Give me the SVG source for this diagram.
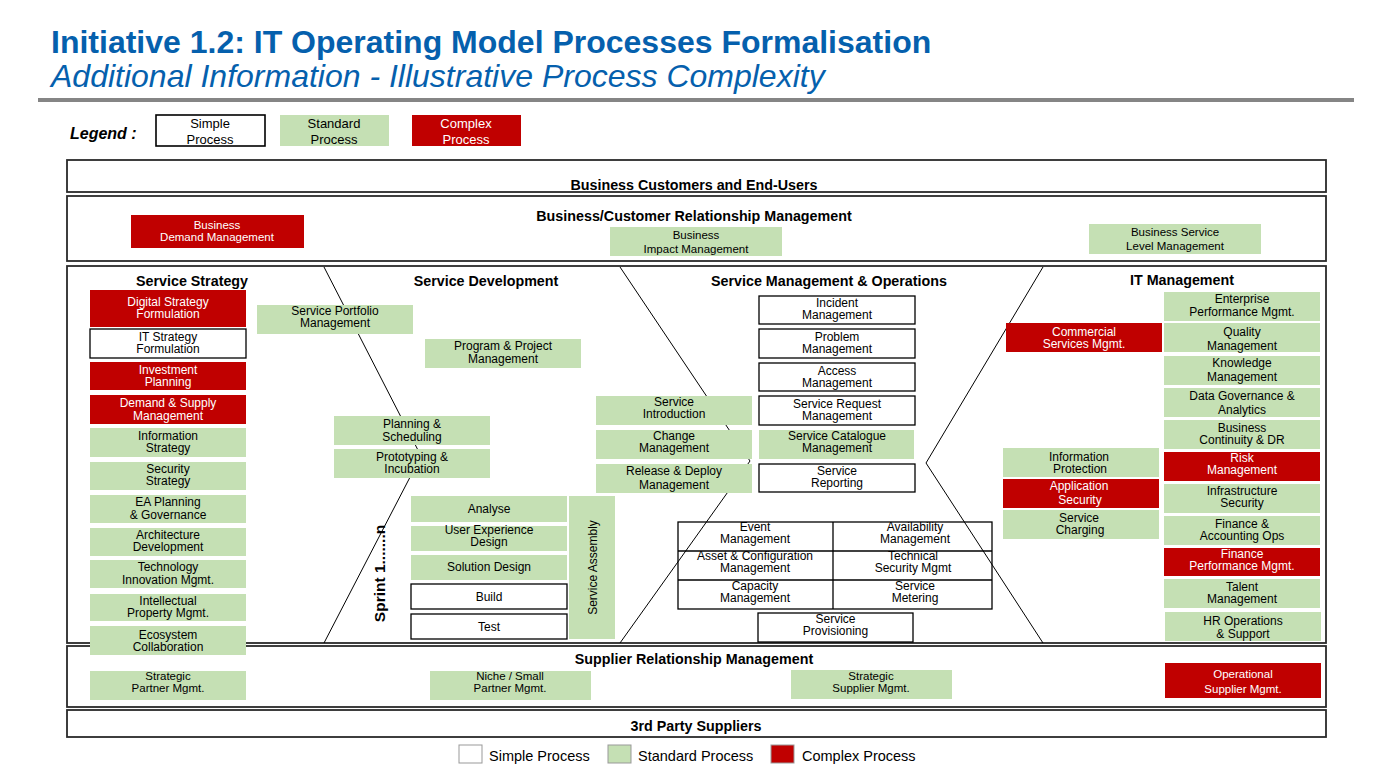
<svg xmlns="http://www.w3.org/2000/svg" width="1396" height="765" viewBox="0 0 1396 765">
<style>
text{font-family:"Liberation Sans",Arial,Helvetica,sans-serif;fill:#000}
.t{font-size:12px;text-anchor:middle}
.tb{font-size:11.5px;text-anchor:middle}
.tw{fill:#fff}
.h{font-size:14.3px;font-weight:bold;text-anchor:middle}
.g{fill:#C5E0B4}
.r{fill:#C00000}
.w{fill:#fff;stroke:#000;stroke-width:1.3}
.frame{fill:none;stroke:#2a2a2a;stroke-width:1.8}
.ln{fill:none;stroke:#000;stroke-width:1}
.cell{fill:none;stroke:#000;stroke-width:1.3}
</style>
<rect width="1396" height="765" fill="#fff"/>

<g id="title">
<text x="51" y="53" style="font-size:32px;font-weight:bold;fill:#0560AD">Initiative 1.2: IT Operating Model Processes Formalisation</text>
<text x="51" y="87" style="font-size:32px;font-style:italic;fill:#0560AD">Additional Information - Illustrative Process Complexity</text>
<rect x="38" y="98" width="1316" height="4" fill="#858585"/>
</g>

<g id="legend-top">
<text x="70" y="139" style="font-size:16px;font-weight:bold;font-style:italic">Legend :</text>
<rect x="156" y="115" width="109" height="31" class="w" style="stroke-width:1.6"/>
<text class="t" style="font-size:13px" x="210" y="128">Simple<tspan x="210" y="144">Process</tspan></text>
<rect x="280" y="115" width="109" height="31" class="g"/>
<text class="t" style="font-size:13px" x="334" y="128">Standard<tspan x="334" y="144">Process</tspan></text>
<rect x="412" y="115" width="109" height="31" class="r"/>
<text class="t tw" style="font-size:13px" x="466" y="128">Complex<tspan x="466" y="144">Process</tspan></text>
</g>

<g id="frames">
<rect x="67" y="160" width="1259" height="32" class="frame"/>
<rect x="67" y="196" width="1259" height="65" class="frame"/>
<rect x="67" y="266" width="1259" height="377" class="frame"/>
<rect x="67" y="646" width="1259" height="61" class="frame"/>
<rect x="67" y="710" width="1259" height="27" class="frame"/>
<text class="h" x="694" y="190">Business Customers and End-Users</text>
<text class="h" x="694" y="221">Business/Customer Relationship Management</text>
<text class="h" x="694" y="664">Supplier Relationship Management</text>
<text class="h" x="696" y="731">3rd Party Suppliers</text>
<text class="h" x="192" y="286">Service Strategy</text>
<text class="h" x="486" y="286">Service Development</text>
<text class="h" x="829" y="286">Service Management &amp; Operations</text>
<text class="h" x="1182" y="285">IT Management</text>
</g>

<g id="connectors">
<polyline class="ln" points="324,267 421,456 324,643"/>
<polyline class="ln" points="620,267 750,461 620,643"/>
<polyline class="ln" points="1043,267 926,463 1043,643"/>
</g>

<!-- Business band -->
<g id="business-demand"><rect x="131" y="215" width="173" height="33" class="r"/><text class="tb tw" x="217" y="229">Business<tspan x="217" y="241">Demand Management</tspan></text></g>
<g id="business-impact"><rect x="610" y="227" width="172" height="29" class="g"/><text class="tb" x="696" y="239">Business<tspan x="696" y="253">Impact Management</tspan></text></g>
<g id="business-service-level"><rect x="1089" y="224" width="172" height="30" class="g"/><text class="tb" x="1175" y="236">Business Service<tspan x="1175" y="250">Level Management</tspan></text></g>

<!-- Service Strategy -->
<g id="digital-strategy"><rect x="90" y="290" width="156" height="37" class="r"/><text class="t tw" x="168" y="306">Digital Strategy<tspan x="168" y="318">Formulation</tspan></text></g>
<g id="it-strategy"><rect x="90" y="329" width="156" height="29" class="w"/><text class="t" x="168" y="341">IT Strategy<tspan x="168" y="353">Formulation</tspan></text></g>
<g id="investment-planning"><rect x="90" y="362" width="156" height="28" class="r"/><text class="t tw" x="168" y="374">Investment<tspan x="168" y="386">Planning</tspan></text></g>
<g id="demand-supply"><rect x="90" y="395" width="156" height="29" class="r"/><text class="t tw" x="168" y="407">Demand &amp; Supply<tspan x="168" y="420">Management</tspan></text></g>
<g id="information-strategy"><rect x="90" y="428" width="156" height="29" class="g"/><text class="t" x="168" y="440">Information<tspan x="168" y="452">Strategy</tspan></text></g>
<g id="security-strategy"><rect x="90" y="462" width="156" height="28" class="g"/><text class="t" x="168" y="473">Security<tspan x="168" y="485">Strategy</tspan></text></g>
<g id="ea-planning"><rect x="90" y="495" width="156" height="28" class="g"/><text class="t" x="168" y="506">EA Planning<tspan x="168" y="519">&amp; Governance</tspan></text></g>
<g id="architecture-development"><rect x="90" y="528" width="156" height="28" class="g"/><text class="t" x="168" y="539">Architecture<tspan x="168" y="551">Development</tspan></text></g>
<g id="technology-innovation"><rect x="90" y="560" width="156" height="28" class="g"/><text class="t" x="168" y="571">Technology<tspan x="168" y="584">Innovation Mgmt.</tspan></text></g>
<g id="intellectual-property"><rect x="90" y="594" width="156" height="27" class="g"/><text class="t" x="168" y="605">Intellectual<tspan x="168" y="617">Property Mgmt.</tspan></text></g>
<g id="ecosystem-collaboration"><rect x="90" y="626" width="156" height="29" class="g"/><text class="t" x="168" y="639">Ecosystem<tspan x="168" y="651">Collaboration</tspan></text></g>

<!-- Service Development -->
<g id="service-portfolio"><rect x="257" y="305" width="156" height="29" class="g"/><text class="t" x="335" y="315">Service Portfolio<tspan x="335" y="327">Management</tspan></text></g>
<g id="program-project"><rect x="425" y="339" width="156" height="29" class="g"/><text class="t" x="503" y="350">Program &amp; Project<tspan x="503" y="363">Management</tspan></text></g>
<g id="planning-scheduling"><rect x="334" y="416" width="156" height="29" class="g"/><text class="t" x="412" y="428">Planning &amp;<tspan x="412" y="441">Scheduling</tspan></text></g>
<g id="prototyping-incubation"><rect x="334" y="449" width="156" height="29" class="g"/><text class="t" x="412" y="461">Prototyping &amp;<tspan x="412" y="473">Incubation</tspan></text></g>
<g id="analyse"><rect x="411" y="496" width="156" height="26" class="g"/><text class="t" x="489" y="513">Analyse</text></g>
<g id="ux-design"><rect x="411" y="526" width="156" height="25" class="g"/><text class="t" x="489" y="534">User Experience<tspan x="489" y="546">Design</tspan></text></g>
<g id="solution-design"><rect x="411" y="555" width="156" height="25" class="g"/><text class="t" x="489" y="571">Solution Design</text></g>
<g id="build"><rect x="411" y="584" width="156" height="25" class="w"/><text class="t" x="489" y="601">Build</text></g>
<g id="test"><rect x="411" y="614" width="156" height="25" class="w"/><text class="t" x="489" y="631">Test</text></g>
<g id="service-assembly"><rect x="569" y="496" width="46" height="143" class="g"/><text class="t" transform="translate(596.5,567.5) rotate(-90)" x="0" y="0">Service Assembly</text></g>
<g id="sprint"><text transform="translate(385,573.5) rotate(-90)" x="0" y="0" style="font-size:15.5px;font-weight:bold;text-anchor:middle">Sprint 1.......n</text></g>

<!-- Service Management & Operations -->
<g id="service-introduction"><rect x="596" y="396" width="156" height="29" class="g"/><text class="t" x="674" y="406">Service<tspan x="674" y="418">Introduction</tspan></text></g>
<g id="change-management"><rect x="596" y="430" width="156" height="29" class="g"/><text class="t" x="674" y="440">Change<tspan x="674" y="452">Management</tspan></text></g>
<g id="release-deploy"><rect x="596" y="464" width="156" height="29" class="g"/><text class="t" x="674" y="475">Release &amp; Deploy<tspan x="674" y="489">Management</tspan></text></g>
<g id="incident-management"><rect x="759" y="296" width="156" height="28" class="w"/><text class="t" x="837" y="307">Incident<tspan x="837" y="319">Management</tspan></text></g>
<g id="problem-management"><rect x="759" y="329" width="156" height="29" class="w"/><text class="t" x="837" y="341">Problem<tspan x="837" y="353">Management</tspan></text></g>
<g id="access-management"><rect x="759" y="363" width="156" height="28" class="w"/><text class="t" x="837" y="375">Access<tspan x="837" y="387">Management</tspan></text></g>
<g id="service-request"><rect x="759" y="396" width="156" height="29" class="w"/><text class="t" x="837" y="408">Service Request<tspan x="837" y="420">Management</tspan></text></g>
<g id="service-catalogue"><rect x="759" y="430" width="155" height="29" class="g"/><text class="t" x="837" y="440">Service Catalogue<tspan x="837" y="452">Management</tspan></text></g>
<g id="service-reporting"><rect x="759" y="464" width="156" height="28" class="w"/><text class="t" x="837" y="475">Service<tspan x="837" y="487">Reporting</tspan></text></g>
<g id="ops-table">
<rect x="678" y="522" width="314" height="87" class="cell"/>
<line x1="833" y1="522" x2="833" y2="609" class="cell"/>
<line x1="678" y1="551" x2="992" y2="551" class="cell"/>
<line x1="678" y1="580" x2="992" y2="580" class="cell"/>
<text class="t" x="755" y="531">Event<tspan x="755" y="543">Management</tspan></text>
<text class="t" x="915" y="531">Availability<tspan x="915" y="543">Management</tspan></text>
<text class="t" x="755" y="560">Asset &amp; Configuration<tspan x="755" y="572">Management</tspan></text>
<text class="t" x="913" y="560">Technical<tspan x="913" y="572">Security Mgmt</tspan></text>
<text class="t" x="755" y="590">Capacity<tspan x="755" y="602">Management</tspan></text>
<text class="t" x="915" y="590">Service<tspan x="915" y="602">Metering</tspan></text>
</g>
<g id="service-provisioning"><rect x="758" y="613" width="155" height="29" class="w"/><text class="t" x="835.5" y="623">Service<tspan x="835.5" y="635">Provisioning</tspan></text></g>

<!-- IT Management -->
<g id="commercial-services"><rect x="1006" y="323" width="156" height="29" class="r"/><text class="t tw" x="1084" y="336">Commercial<tspan x="1084" y="348">Services Mgmt.</tspan></text></g>
<g id="enterprise-performance"><rect x="1164" y="292" width="156" height="29" class="g"/><text class="t" x="1242" y="303">Enterprise<tspan x="1242" y="316">Performance Mgmt.</tspan></text></g>
<g id="quality-management"><rect x="1164" y="323" width="156" height="29" class="g"/><text class="t" x="1242" y="336">Quality<tspan x="1242" y="350">Management</tspan></text></g>
<g id="knowledge-management"><rect x="1164" y="356" width="156" height="29" class="g"/><text class="t" x="1242" y="367">Knowledge<tspan x="1242" y="381">Management</tspan></text></g>
<g id="data-governance"><rect x="1164" y="388" width="156" height="29" class="g"/><text class="t" x="1242" y="400">Data Governance &amp;<tspan x="1242" y="414">Analytics</tspan></text></g>
<g id="business-continuity"><rect x="1164" y="420" width="156" height="29" class="g"/><text class="t" x="1242" y="432">Business<tspan x="1242" y="444">Continuity &amp; DR</tspan></text></g>
<g id="risk-management"><rect x="1164" y="452" width="156" height="29" class="r"/><text class="t tw" x="1242" y="462">Risk<tspan x="1242" y="474">Management</tspan></text></g>
<g id="infrastructure-security"><rect x="1164" y="484" width="156" height="29" class="g"/><text class="t" x="1242" y="495">Infrastructure<tspan x="1242" y="507">Security</tspan></text></g>
<g id="finance-accounting"><rect x="1164" y="516" width="156" height="29" class="g"/><text class="t" x="1242" y="528">Finance &amp;<tspan x="1242" y="540">Accounting Ops</tspan></text></g>
<g id="finance-performance"><rect x="1164" y="548" width="156" height="28" class="r"/><text class="t tw" x="1242" y="558">Finance<tspan x="1242" y="570">Performance Mgmt.</tspan></text></g>
<g id="talent-management"><rect x="1164" y="579" width="156" height="29" class="g"/><text class="t" x="1242" y="591">Talent<tspan x="1242" y="603">Management</tspan></text></g>
<g id="hr-operations"><rect x="1165" y="612" width="156" height="29" class="g"/><text class="t" x="1243" y="625">HR Operations<tspan x="1243" y="638">&amp; Support</tspan></text></g>
<g id="information-protection"><rect x="1003" y="448" width="156" height="29" class="g"/><text class="t" x="1079" y="461">Information<tspan x="1080" y="473">Protection</tspan></text></g>
<g id="application-security"><rect x="1003" y="479" width="156" height="29" class="r"/><text class="t tw" x="1079" y="490">Application<tspan x="1080" y="504">Security</tspan></text></g>
<g id="service-charging"><rect x="1003" y="510" width="156" height="29" class="g"/><text class="t" x="1079" y="522">Service<tspan x="1080" y="534">Charging</tspan></text></g>

<!-- Supplier band -->
<g id="strategic-partner"><rect x="90" y="671" width="156" height="29" class="g"/><text class="tb" x="168" y="680">Strategic<tspan x="168" y="692">Partner Mgmt.</tspan></text></g>
<g id="niche-partner"><rect x="430" y="671" width="161" height="29" class="g"/><text class="tb" x="510" y="680">Niche / Small<tspan x="510" y="692">Partner Mgmt.</tspan></text></g>
<g id="strategic-supplier"><rect x="791" y="670" width="161" height="29" class="g"/><text class="tb" x="871" y="680">Strategic<tspan x="871" y="692">Supplier Mgmt.</tspan></text></g>
<g id="operational-supplier"><rect x="1165" y="663" width="156" height="35" class="r"/><text class="tb tw" x="1243" y="678">Operational<tspan x="1243" y="693">Supplier Mgmt.</tspan></text></g>

<g id="legend-bottom">
<rect x="459" y="745" width="23" height="18" fill="#fff" stroke="#999" stroke-width="1"/>
<text x="489" y="761" style="font-size:14.5px">Simple Process</text>
<rect x="608" y="745" width="23" height="18" class="g" stroke="#999" stroke-width="1"/>
<text x="638" y="761" style="font-size:14.5px">Standard Process</text>
<rect x="771" y="745" width="23" height="18" class="r" stroke="#999" stroke-width="1"/>
<text x="802" y="761" style="font-size:14.5px">Complex Process</text>
</g>
</svg>
